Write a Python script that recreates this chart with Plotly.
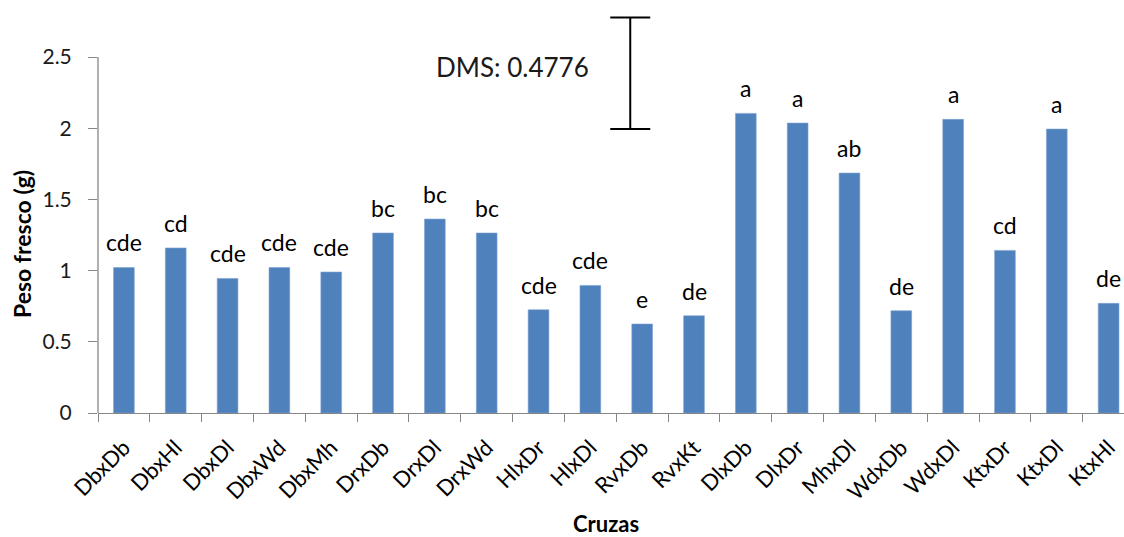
import plotly.graph_objects as go

categories = ["DbxDb", "DbxHl", "DbxDl", "DbxWd", "DbxMh", "DrxDb", "DrxDl", "DrxWd",
              "HlxDr", "HlxDl", "RvxDb", "RvxKt", "DlxDb", "DlxDr", "MhxDl", "WdxDb",
              "WdxDl", "KtxDr", "KtxDl", "KtxHl"]
peso_fresco = [1.022, 1.159, 0.945, 1.022, 0.990, 1.264, 1.362, 1.264,
               0.725, 0.896, 0.625, 0.683, 2.104, 2.036, 1.685, 0.718,
               2.062, 1.142, 1.994, 0.770]
letters = ["cde", "cd", "cde", "cde", "cde", "bc", "bc", "bc",
           "cde", "cde", "e", "de", "a", "a", "ab", "de",
           "a", "cd", "a", "de"]
y_ticks = [0, 0.5, 1, 1.5, 2, 2.5]
y_tick_text = ["0", "0.5", "1", "1.5", "2", "2.5"]

# DMS reference bar (as drawn in the chart)
dms_label = "DMS: 0.4776"
dms_x = 9.77
dms_low = 1.994
dms_high = 2.778

Y_AXIS_TOP = 2.5
Y_VIEW_MAX = 2.802

FONT = "Lato, 'Open Sans', sans-serif"
BAR = "#4F81BD"
AXIS = "#868686"

fig = go.Figure()
fig.add_trace(go.Bar(
    x=categories, y=peso_fresco, width=0.4,
    marker=dict(color=BAR, line=dict(color="#7FA3D1", width=0.6)),
    showlegend=False, hoverinfo="x+y",
))
fig.add_trace(go.Scatter(
    x=[dms_x], y=[dms_low], xaxis="x2", yaxis="y",
    mode="markers", marker=dict(size=1, color="rgba(0,0,0,0)"),
    showlegend=False, hoverinfo="skip",
    error_y=dict(type="data", symmetric=False, array=[dms_high - dms_low],
                 arrayminus=[0], color="black", thickness=2, width=20),
))

for c, v, t in zip(categories, peso_fresco, letters):
    fig.add_annotation(x=c, y=v, text=t, showarrow=False, yanchor="bottom",
                       yshift=9, font=dict(family=FONT, size=23, color="#000000"))

fig.add_annotation(x=7.49, y=2.432, xref="x2", yref="y", text=dms_label, showarrow=False,
                   xanchor="center", yanchor="middle",
                   font=dict(family=FONT, size=26, color="#1a1a1a"))

fig.add_annotation(x=0.495, y=-0.316, xref="paper", yref="paper", text="<b>Cruzas</b>",
                   showarrow=False, xanchor="center", yanchor="bottom",
                   font=dict(family=FONT, size=22, color="#000000"))
fig.add_annotation(x=-0.074, y=0.4236, xref="paper", yref="paper", text="<b>Peso fresco (g)</b>",
                   showarrow=False, textangle=-90, xanchor="center", yanchor="middle",
                   font=dict(family=FONT, size=23, color="#000000"))

# vertical axis line only up to the top tick
fig.add_shape(type="line", xref="paper", yref="paper", x0=0, x1=0,
              y0=0, y1=Y_AXIS_TOP / Y_VIEW_MAX, line=dict(color=AXIS, width=1.3))

fig.update_layout(
    width=1124, height=537,
    margin=dict(l=98, r=0, t=14, b=124),
    paper_bgcolor="white", plot_bgcolor="white",
    font=dict(family=FONT, color="#000000"),
    xaxis=dict(
        type="category", range=[-0.5, 19.297],
        showline=True, linecolor=AXIS, linewidth=1.3,
        ticks="outside", tickson="boundaries", ticklen=8, tickcolor=AXIS, tickwidth=1.3,
        tickangle=-45, tickfont=dict(family=FONT, size=22, color="#000000"),
        ticklabelstandoff=12,
        showgrid=False, zeroline=False, fixedrange=True,
    ),
    xaxis2=dict(
        overlaying="x", range=[-0.5, 19.297], visible=False, fixedrange=True,
    ),
    yaxis=dict(
        range=[0, Y_VIEW_MAX], tickvals=y_ticks, ticktext=y_tick_text,
        showline=False,
        ticks="outside", ticklen=9, tickcolor=AXIS, tickwidth=1.3,
        tickfont=dict(family=FONT, size=21, color="#1a1a1a"),
        ticklabelstandoff=12,
        showgrid=False, zeroline=False, fixedrange=True,
    ),
)

fig.write_html("out.html")
